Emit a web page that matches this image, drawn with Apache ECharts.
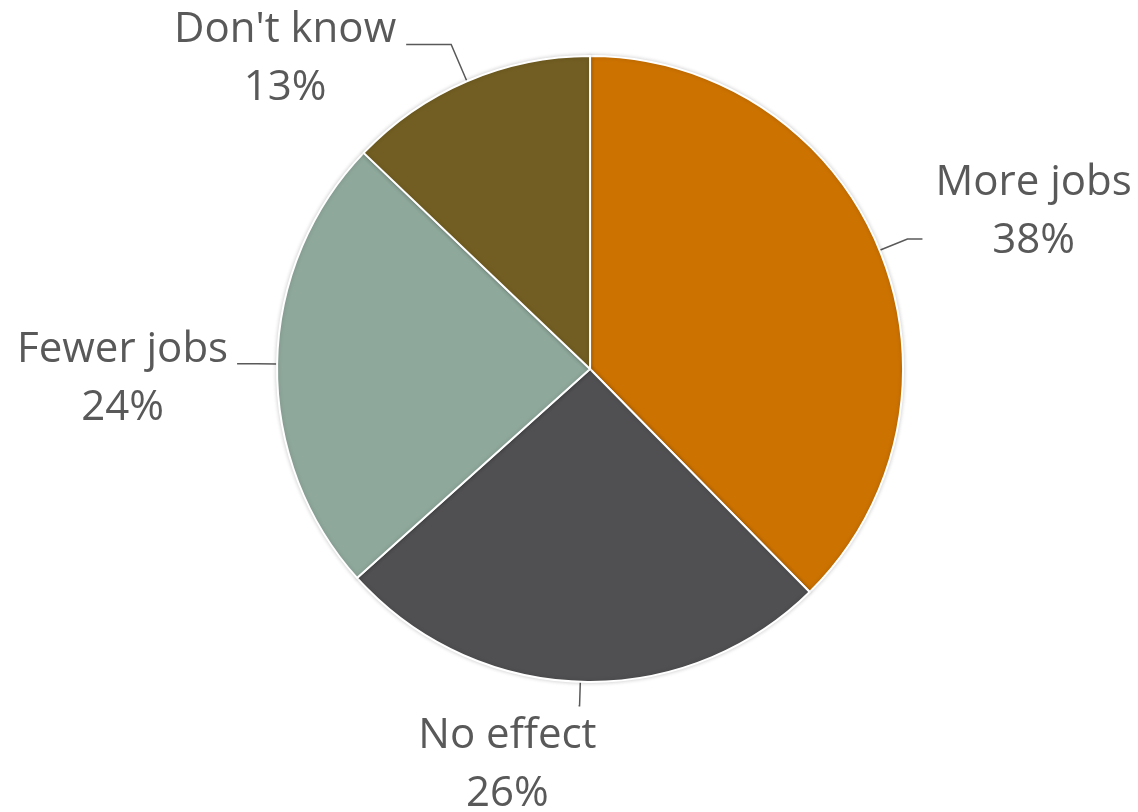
<!DOCTYPE html>
<html>
<head>
<meta charset="utf-8">
<script src="https://cdn.jsdelivr.net/npm/echarts@6/dist/echarts.min.js"></script>
<style>
html,body{margin:0;padding:0;background:#fff;}
#chart{width:1138px;height:812px;}
</style>
</head>
<body>
<div id="chart"></div>
<script>
const categories = ['More jobs', 'No effect', 'Fewer jobs', "Don't know"];
const values = [38, 26, 24, 13];
const colors = ['#CC7200', '#505052', '#8FA89C', '#725E22'];

// per-label line lengths and text offsets (layout tweaks only)
const lineLen = [30, 24, 20, 40];
const lineLen2 = [15, 1, 20, 45];
const labelShift = [[8, -27], [23, 59], [-4, 15], [-5, 15]];

const chart = echarts.init(document.getElementById('chart'));
chart.setOption({
  animation: false,
  backgroundColor: '#ffffff',
  series: [{
    type: 'pie',
    center: ['51.85%', '45.44%'],
    radius: 313,
    startAngle: 90,
    clockwise: true,
    avoidLabelOverlap: false,
    data: categories.map((c, i) => ({
      name: c,
      value: values[i],
      itemStyle: { color: colors[i] },
      labelLine: { length: lineLen[i], length2: lineLen2[i] }
    })),
    itemStyle: {
      borderColor: '#ffffff',
      borderWidth: 2,
      shadowBlur: 4,
      shadowColor: 'rgba(0,0,0,0.18)'
    },
    label: {
      show: true,
      position: 'outside',
      formatter: '{n|{b}}\n{p|{c}%}',
      rich: {
        n: { fontFamily: 'Open Sans', fontSize: 42, color: '#595959', lineHeight: 58, align: 'center' },
        p: { fontFamily: 'Open Sans', fontSize: 42, color: '#595959', lineHeight: 58, align: 'center' }
      }
    },
    labelLine: {
      show: true,
      lineStyle: { color: '#595959', width: 1.5 }
    },
    labelLayout: function (params) {
      const s = labelShift[params.dataIndex];
      return { dx: s[0], dy: s[1] };
    }
  }]
});
</script>
</body>
</html>
